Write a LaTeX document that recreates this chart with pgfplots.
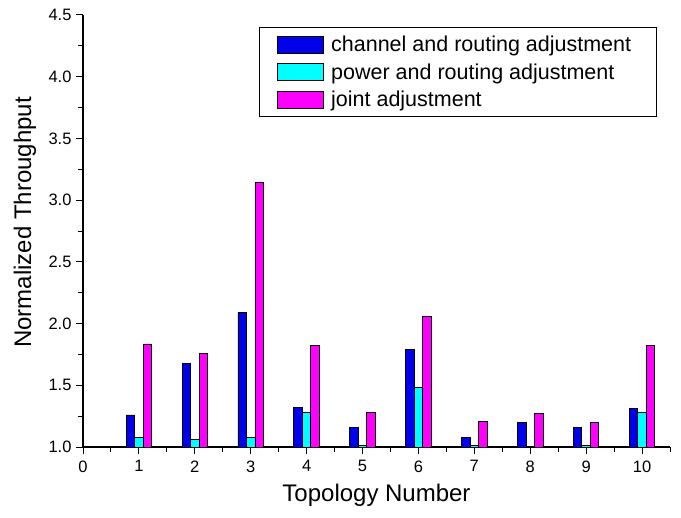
\documentclass[border=0pt]{standalone}
\usepackage{pgfplots}
\pgfplotsset{compat=1.18}
\usepackage{fontspec}
\setmainfont{Liberation Sans}
\definecolor{cblue}{RGB}{0,0,235}
\definecolor{ccyan}{RGB}{0,255,255}
\definecolor{cmag}{RGB}{255,0,255}
\newcommand{\tickfont}{\fontsize{16.5bp}{18bp}\selectfont}
\begin{document}
\begin{tikzpicture}
\path (-83bp,-71bp) rectangle (598bp,447bp);
\begin{axis}[
  at={(0,0)}, anchor=south west,
  scale only axis, width=587bp, height=432bp,
  xmin=0, xmax=10.5, ymin=1.0, ymax=4.5,
  axis lines=left, axis line style={-, line width=1.2pt},
  xtick={0,1,...,10}, minor xtick={0.5,1.5,...,10.5},
  ytick={1.0,1.5,...,4.5}, minor ytick={1.25,1.75,...,4.25},
  tick align=outside, major tick length=7bp, minor tick length=5bp,
  every tick/.style={black, line width=1pt},
  yticklabel={\tickfont\pgfmathprintnumber[assume math mode=true,fixed,fixed zerofill,precision=1]{\tick}},
  xticklabel={\tickfont\pgfmathprintnumber[assume math mode=true,fixed,precision=0]{\tick}},
  yticklabel style={xshift=-1bp},
  xticklabel style={yshift=-3bp},
  xlabel={Topology Number}, ylabel={Normalized Throughput},
  label style={font=\fontsize{24bp}{26bp}\selectfont},
  xlabel style={at={(axis description cs:0.5,-0.111)}, anchor=center},
  ylabel style={at={(axis description cs:-0.0988,0.52)}, anchor=center},
  ybar=0pt, bar width=8.5bp,
  legend style={at={(rel axis cs:0.978,0.972)}, anchor=north east,
    font=\fontsize{21.5bp}{23bp}\selectfont, draw=black, line width=0.8pt,
    inner xsep=18bp, inner ysep=6.5bp, row sep=6.5bp, cells={anchor=west},
    nodes={inner xsep=7.5bp}},
  legend image code/.code={\draw[#1, line width=0.6pt] (0bp,-8.5bp) rectangle (46bp,8.5bp);},
  clip=true,
]
\addplot[fill=cblue, draw=black, line width=0.8pt] coordinates {
(1,1.26) (2,1.68) (3,2.09) (4,1.32) (5,1.155) (6,1.79) (7,1.08) (8,1.20) (9,1.16) (10,1.31)};
\addplot[fill=ccyan, draw=black, line width=0.8pt] coordinates {
(1,1.08) (2,1.06) (3,1.08) (4,1.28) (5,1.01) (6,1.48) (7,1.01) (8,1.005) (9,1.01) (10,1.28)};
\addplot[fill=cmag, draw=black, line width=0.8pt] coordinates {
(1,1.835) (2,1.76) (3,3.14) (4,1.82) (5,1.28) (6,2.06) (7,1.21) (8,1.27) (9,1.20) (10,1.82)};
\legend{channel and routing adjustment, power and routing adjustment, joint adjustment}
\end{axis}
\end{tikzpicture}
\end{document}
